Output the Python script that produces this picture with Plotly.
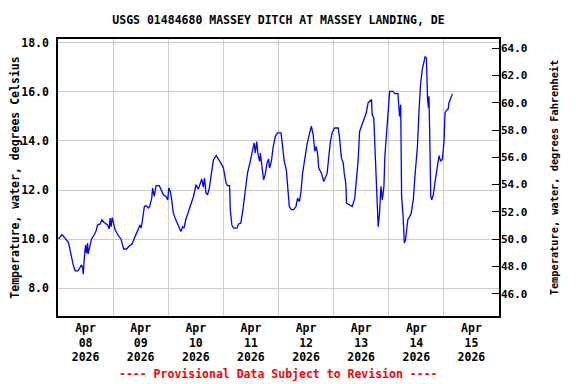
import pandas as pd
import plotly.graph_objects as go

# Hours since 2026-04-08 00:00 and water temperature (deg C)
hours = [0.2, 1.7, 2.7, 3.7, 4.6, 5.1, 5.9, 6.6, 7.5, 8.6, 9.5, 10.1, 10.7, 11.0, 11.4, 12.0, 12.4, 12.9, 13.1, 14.0,
         14.6, 15.8, 16.5, 17.2, 18.4, 19.1, 20.1, 21.6, 22.3, 22.7, 23.1, 23.6, 24.2, 24.9, 26.0, 27.4, 28.1, 28.6,
         29.9, 30.8, 32.2, 33.2, 34.7, 35.7, 36.1, 36.6, 37.6, 38.3, 39.5, 40.0, 40.8, 41.2, 41.9, 42.7, 44.1, 44.9,
         45.9, 47.0, 47.8, 48.2, 48.9, 49.5, 50.2, 51.1, 52.4, 53.5, 54.3, 54.9, 55.6, 56.8, 57.8, 59.0, 60.1, 61.1,
         62.6, 63.3, 63.8, 64.4, 65.1, 65.9, 66.7, 67.7, 68.9, 69.9, 70.9, 72.0, 72.5, 73.2, 73.8, 74.7, 75.0, 75.7,
         76.4, 77.9, 78.6, 79.6, 80.5, 81.5, 82.5, 83.7, 84.7, 85.4, 85.9, 86.5, 87.1, 87.8, 88.1, 88.8, 89.5, 90.2,
         91.0, 91.7, 92.1, 92.9, 93.6, 94.6, 95.6, 97.1, 97.7, 98.5, 99.4, 99.9, 100.2, 100.7, 101.6, 102.6, 103.6,
         104.3, 105.1, 105.8, 106.5, 107.4, 108.4, 109.4, 110.3, 111.1, 111.8, 112.4, 113.1, 113.5, 114.7, 115.7,
         116.4, 117.2, 117.9, 118.6, 119.4, 120.4, 122.0, 122.5, 123.4, 124.2, 124.6, 125.3, 125.6, 126.6, 128.1,
         129.2, 129.8, 130.7, 131.3, 132.1, 133.1, 134.2, 135.0, 135.6, 136.5, 136.8, 137.5, 138.0, 138.6, 139.0,
         139.4, 140.0, 140.6, 141.2, 141.9, 142.3, 142.9, 143.6, 144.4, 145.8, 146.7, 148.0, 148.4, 148.7, 149.2,
         149.5, 149.6, 150.2, 150.8, 151.3, 151.8, 152.3, 153.1, 153.8, 154.3, 154.7, 155.4, 156.5, 157.2, 157.9,
         158.6, 159.3, 159.8, 160.4, 160.6, 160.9, 161.3, 161.5, 161.8, 162.3, 162.7, 163.4, 164.1, 164.7, 165.4,
         165.9, 166.6, 167.4, 168.1, 168.5, 169.1, 169.9, 170.2, 170.9, 171.7]
temps_c = [10.00, 10.19, 10.08, 9.97, 9.86, 9.63, 9.22, 8.95, 8.71, 8.71, 8.82, 8.95, 8.86, 8.57, 9.16, 9.77, 9.43, 9.84, 9.40, 9.84,
           10.01, 10.18, 10.31, 10.58, 10.62, 10.79, 10.68, 10.58, 10.42, 10.86, 10.51, 10.88, 10.58, 10.38, 10.18, 10.01, 9.77, 9.60,
           9.60, 9.70, 9.80, 10.04, 10.38, 10.58, 10.45, 10.65, 11.33, 11.36, 11.27, 11.36, 11.67, 12.08, 11.74, 12.18, 12.18, 11.98,
           11.81, 11.74, 11.60, 12.08, 11.94, 11.60, 11.06, 10.83, 10.58, 10.31, 10.51, 10.45, 10.79, 11.13, 11.33, 11.74, 12.22, 12.04,
           12.45, 12.12, 12.49, 11.88, 11.81, 12.08, 12.62, 13.24, 13.40, 13.27, 13.10, 12.90, 12.69, 12.29, 12.18, 12.18, 11.20, 10.58,
           10.45, 10.45, 10.62, 10.65, 11.20, 12.01, 12.69, 13.17, 13.71, 13.92, 13.51, 13.98, 13.44, 13.17, 13.51, 12.83, 12.42, 12.62,
           13.10, 13.27, 12.90, 13.17, 13.71, 14.19, 14.33, 14.33, 13.78, 13.17, 12.83, 12.20, 11.74, 11.33, 11.20, 11.20, 11.33,
           11.67, 11.53, 11.94, 12.69, 13.24, 13.85, 14.26, 14.60, 14.26, 13.58, 13.78, 13.44, 12.90, 12.69, 12.35,
           12.49, 12.69, 13.37, 13.98, 14.35, 14.53, 14.53, 14.19, 13.31, 13.10, 12.69, 12.29, 11.47, 11.40, 11.33,
           11.67, 12.22, 13.24, 14.39, 14.60, 14.80, 15.14, 15.55, 15.62, 15.69, 15.07, 14.94, 13.71, 12.01, 11.13,
           10.51, 11.06, 12.15, 11.60, 12.15, 13.37, 14.19, 15.21, 16.02, 16.02, 15.93, 15.93, 15.55, 15.00, 15.48,
           13.78, 11.74, 10.99, 9.84, 9.97, 10.31, 10.79, 10.92, 11.06, 11.40, 11.60, 12.56, 13.78, 15.28, 16.37,
           16.91, 17.25, 17.43, 17.39, 16.64, 15.69, 15.35, 15.82, 14.46, 11.74, 11.60, 11.81, 12.29, 12.62, 13.10,
           13.40, 13.17, 13.27, 14.05, 15.14, 15.25, 15.31, 15.55, 15.76, 15.92]

start = pd.Timestamp("2026-04-08 00:00")
day_dates = ["2026-04-08", "2026-04-09", "2026-04-10", "2026-04-11",
             "2026-04-12", "2026-04-13", "2026-04-14", "2026-04-15"]
day_labels = ["Apr<br>08<br>2026", "Apr<br>09<br>2026", "Apr<br>10<br>2026", "Apr<br>11<br>2026",
              "Apr<br>12<br>2026", "Apr<br>13<br>2026", "Apr<br>14<br>2026", "Apr<br>15<br>2026"]
c_ticks = [8, 10, 12, 14, 16, 18]
f_ticks = [46, 48, 50, 52, 54, 56, 58, 60, 62, 64]
c_range = [6.87, 18.155]

times = [start + pd.Timedelta(hours=h) for h in hours]
noon = [pd.Timestamp(d) + pd.Timedelta(hours=12) for d in day_dates]
midnights = [pd.Timestamp(d) for d in day_dates[1:]]

FONT = "DejaVu Sans Mono"
W, H = 568, 376  # page body has an 8px margin in the 576x384 window

fig = go.Figure()
fig.add_trace(go.Scatter(x=times, y=temps_c, mode="lines",
                         line=dict(color="#0000FF", width=1.3), showlegend=False))
# invisible trace for Fahrenheit axis
fig.add_trace(go.Scatter(x=[times[0]], y=[temps_c[0] * 1.8 + 32], yaxis="y2",
                         mode="markers", marker=dict(opacity=0), showlegend=False, hoverinfo="skip"))

fig.update_layout(
    width=W, height=H,
    margin=dict(l=50, r=77, t=31, b=68, autoexpand=False),
    paper_bgcolor="white", plot_bgcolor="white",
    font=dict(family=FONT, size=11.5, color="black", weight="bold"),
    title=dict(text="USGS 01484680 MASSEY DITCH AT MASSEY LANDING, DE",
               xref="paper", x=0.5, xanchor="center",
               yref="container", y=1 - 11.5 / H, yanchor="middle",
               font=dict(family=FONT, size=11.5, color="black", weight="bold")),
    xaxis=dict(
        range=[start, start + pd.Timedelta(days=8)],
        tickmode="array", tickvals=noon, ticktext=day_labels,
        showgrid=False, ticks="", tickfont=dict(size=11.5), automargin=False,
        showline=True, linecolor="black", linewidth=1.5, mirror=True,
        minor=dict(tickmode="array", tickvals=midnights, showgrid=True,
                   gridcolor="#CCCCCC", gridwidth=1, ticks=""),
        zeroline=False,
    ),
    yaxis=dict(
        range=c_range, tickmode="array", tickvals=c_ticks, tickformat=".1f",
        showgrid=True, gridcolor="#CCCCCC", gridwidth=1, automargin=False,
        showline=True, linecolor="black", linewidth=1.5, mirror=True,
        ticks="", zeroline=False, ticklabelstandoff=5,
        title=dict(text="Temperature, water, degrees Celsius", standoff=7,
                   font=dict(size=11.5)),
    ),
    yaxis2=dict(
        range=[c_range[0] * 1.8 + 32, c_range[1] * 1.8 + 32],
        overlaying="y", side="right", automargin=False,
        tickmode="array", tickvals=f_ticks, tickformat=".1f",
        showgrid=False, ticks="inside", ticklen=7, tickcolor="black",
        ticklabelstandoff=1,
        tickfont=dict(size=11), zeroline=False,
        title=dict(text="Temperature, water, degrees Fahrenheit", standoff=24,
                   font=dict(size=10.3)),
    ),
    annotations=[dict(text="---- Provisional Data Subject to Revision ----",
                      xref="paper", yref="paper", x=0.5, y=-(374 - 316) / 277, yanchor="middle",
                      xanchor="center", showarrow=False,
                      font=dict(family=FONT, size=11.5, color="#FF0000", weight="bold"))],
)

fig.write_html("out.html")
